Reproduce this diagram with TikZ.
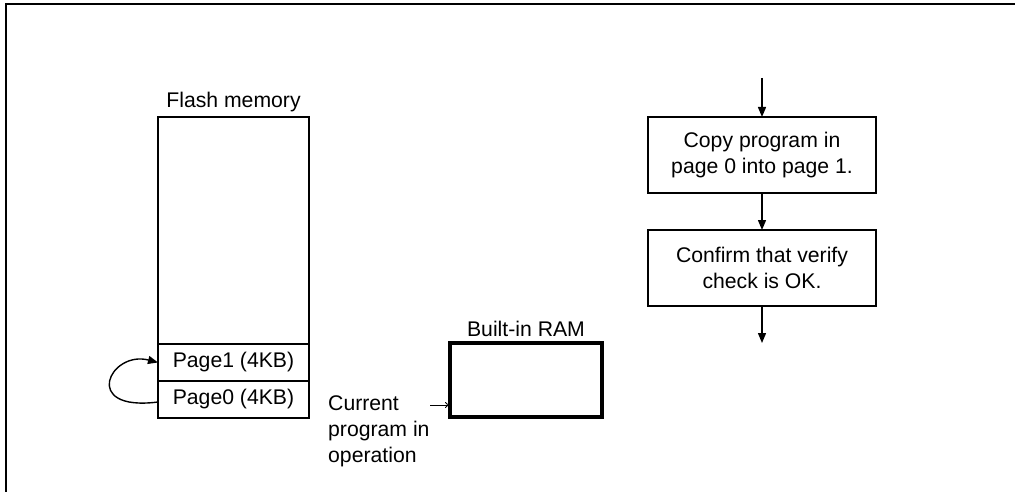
\documentclass[tikz,border=0pt]{standalone}
\usepackage{fontspec}
\setmainfont{Liberation Sans}
\usetikzlibrary{arrows.meta}
\tikzset{
  box/.style={draw, line width=1.4pt, inner sep=0pt, outer sep=0pt, align=center},
  rambox/.style={draw, line width=3.5pt, inner sep=0pt, outer sep=0pt},
  flowarrow/.style={line width=1.4pt, -{Triangle[length=10pt,width=8pt]}},
  thinarrow/.style={line width=0.8pt, -{To[length=5pt,width=6pt]}},
  lbl/.style={inner sep=0pt, align=center}
}
\begin{document}
\begin{tikzpicture}[x=1pt,y=-1pt,font=\fontsize{21.2}{26}\selectfont]
\useasboundingbox (0,0) rectangle (1015,492);
% frame
\draw[line width=2pt] (6,492) -- (6,4) -- (1015,4);

% flash memory
\node[box, minimum width=151pt, minimum height=301pt] (flash) at (233.5,267.5) {};
\node[lbl] (flashlbl) at (233.5,102) {Flash memory};
\node[box, minimum width=151pt, minimum height=37pt] (p1) at (233.5,362.5) {Page1 (4KB)};
\node[box, minimum width=151pt, minimum height=37pt] (p0) at (233.5,399.5) {Page0 (4KB)};
\coordinate (cs) at (158,402);
\draw[flowarrow] (cs) .. controls (80,412) and (110,350) .. (p1.west);

% built-in RAM
\node[rambox, minimum width=152pt, minimum height=74pt] (ram) at (526,380) {};
\node[lbl] (ramlbl) at (526,329) {Built-in RAM};
\node[inner sep=0pt, anchor=west, align=left] (cur) at (328,431) {Current\\program in\\operation};
\coordinate (ca) at (430,405);
\draw[thinarrow] (ca) -- (ram.west |- ca);

% flowchart
\coordinate (t0) at (762,78);
\node[box, minimum width=228pt, minimum height=76pt] (b1) at (762,155) {Copy program in\\page 0 into page 1.};
\node[box, minimum width=228pt, minimum height=76pt] (b2) at (762,268) {Confirm that verify\\check is OK.};
\coordinate (t3) at (762,343);
\draw[flowarrow] (t0) -- (b1.north);
\draw[flowarrow] (b1.south) -- (b2.north);
\draw[flowarrow] (b2.south) -- (t3);
\end{tikzpicture}
\end{document}
